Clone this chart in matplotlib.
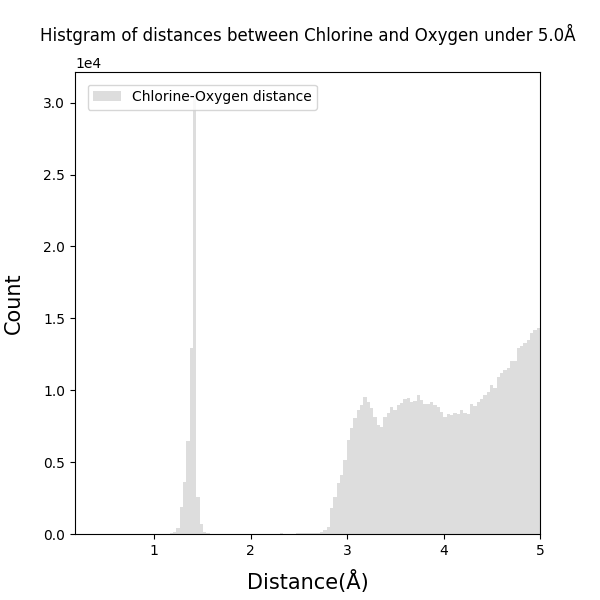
import numpy as np
import matplotlib
matplotlib.use("Agg")
import matplotlib.pyplot as plt

# histogram: 140 bins between 0.16 and 5.0 Angstrom
bin_lo = 0.16
bin_hi = 5.0
n_bins = 140

counts = [
    0, 0, 0, 0, 0, 0, 0, 0, 0, 0,
    0, 0, 0, 0, 0, 0, 0, 0, 0, 0,
    0, 0, 0, 0, 0, 0, 0, 10, 30, 60,
    130, 450, 1850, 3600, 6500, 12950, 30600, 2550, 700, 150,
    50, 20, 10, 0, 0, 0, 0, 0, 0, 0,
    0, 0, 0, 0, 0, 0, 0, 0, 0, 0,
    0, 0, 60, 0, 0, 30, 0, 50, 70, 40,
    60, 90, 40, 60, 150, 300, 500, 1800, 2580, 3550,
    4100, 5150, 6540, 7380, 8070, 8630, 8980, 9530, 9190, 8770,
    8140, 7590, 7450, 8140, 8420, 8840, 8630, 8980, 9120, 9400,
    9470, 9190, 9260, 9670, 9300, 9050, 9050, 9190, 8980, 8860,
    8510, 8160, 8350, 8280, 8400, 8350, 8650, 8400, 8380, 9050,
    8900, 9210, 9390, 9670, 9900, 10370, 10150, 10950, 11180, 11410,
    11550, 12000, 12000, 12940, 13040, 13270, 13500, 13990, 14200, 14320,
]

edges = np.linspace(bin_lo, bin_hi, n_bins + 1)
centers = (edges[:-1] + edges[1:]) / 2

fig, ax = plt.subplots(figsize=(6, 6), dpi=100)

ax.hist(centers, bins=edges, weights=counts, color="#dddddd",
        label="Chlorine-Oxygen distance")

ax.set_xlim(0.181, bin_hi)
ax.ticklabel_format(style="sci", axis="y", scilimits=(0, 0))
ax.set_title("Histgram of distances between Chlorine and Oxygen under 5.0Å", pad=22)
ax.set_xlabel("Distance(Å)", fontsize=15, labelpad=8.5)
ax.set_ylabel("Count", fontsize=15, labelpad=14)
ax.legend(loc="upper left", borderaxespad=0.9)

plt.savefig("out.png", dpi=100)
